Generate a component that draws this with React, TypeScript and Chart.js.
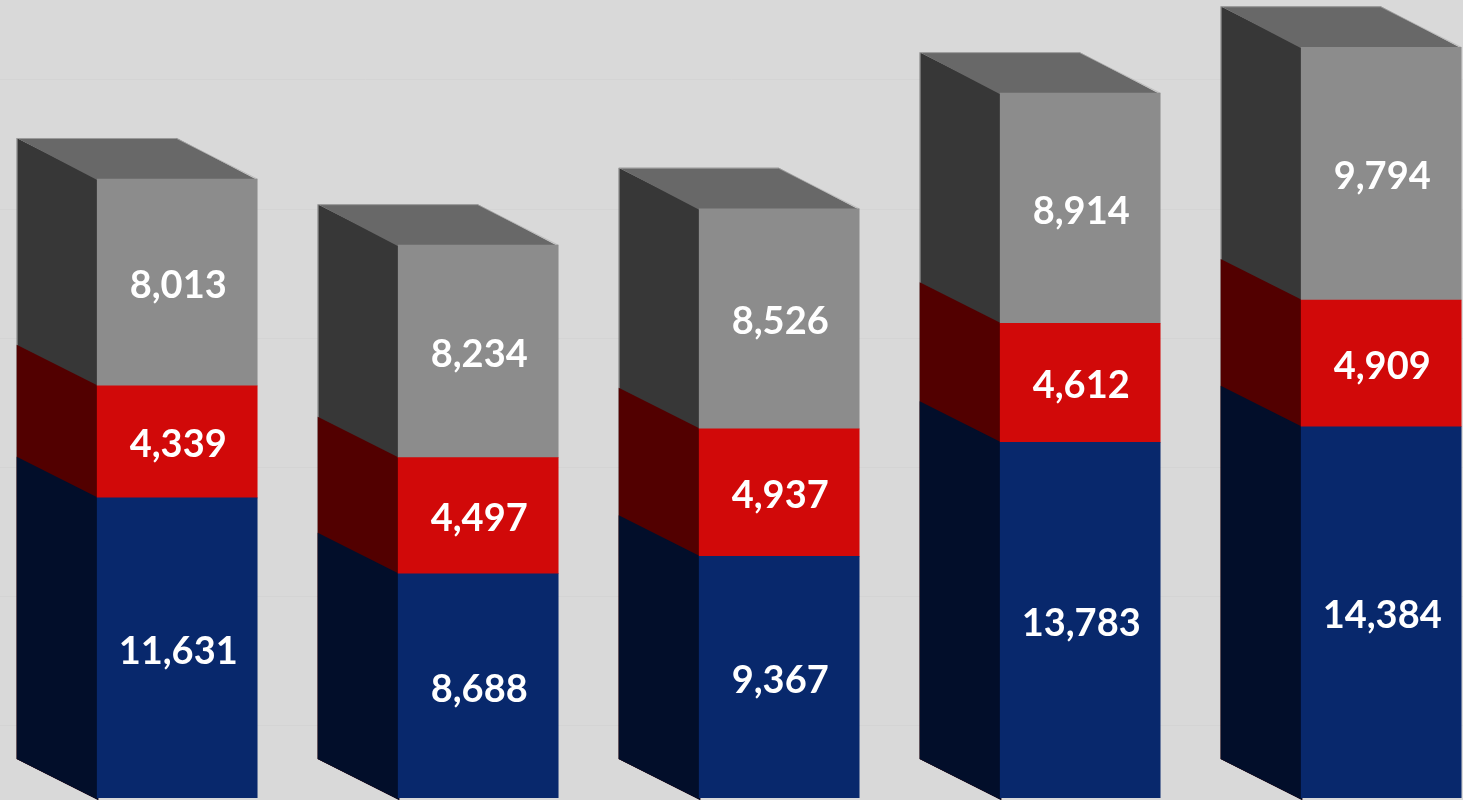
import React, { useEffect, useRef } from "react";
import { Chart, registerables } from "chart.js";

Chart.register(...registerables);

const categories = ["1", "2", "3", "4", "5"];
const seriesBottom = [11631, 8688, 9367, 13783, 14384];
const seriesMiddle = [4339, 4497, 4937, 4612, 4909];
const seriesTop = [8013, 8234, 8526, 8914, 9794];
const gridValues = [5000, 10000, 15000, 20000, 25000, 30000];

const frontColors = ["#08286c", "#d10909", "#8c8c8c"];
const sideColors = ["#020e2a", "#520000", "#373737"];
const topColor = "#686868";
const DX = 80.5;
const DY = 41;
const FONT_SIZE = 38;

const threeD = {
  id: "threeD",
  beforeDatasetsDraw(chart: any) {
    const ctx = chart.ctx;
    const n = chart.data.datasets.length;
    ctx.save();
    const count = chart.data.datasets[0].data.length;
    for (let i = 0; i < count; i++) {
      for (let di = n - 1; di >= 0; di--) {
        const meta = chart.getDatasetMeta(di);
        const bar = meta.data[i];
        if (!bar) continue;
        const { x, y, width } = bar.getProps(["x", "y", "width"], true);
        const ground = chart.getDatasetMeta(0).data[i].getProps(["base"], true).base;
        const xl = x - width / 2;
        const xr = x + width / 2;
        ctx.fillStyle = sideColors[di];
        ctx.beginPath();
        ctx.moveTo(xl + 1, y);
        ctx.lineTo(xl + 1, ground + 2);
        ctx.lineTo(xl - DX, ground + 2 - DY);
        ctx.lineTo(xl - DX, y - DY);
        ctx.closePath();
        ctx.fill();
        if (di === n - 1) {
          ctx.fillStyle = topColor;
          ctx.beginPath();
          ctx.moveTo(xl, y + 1);
          ctx.lineTo(xr, y + 1);
          ctx.lineTo(xr - DX, y - DY);
          ctx.lineTo(xl - DX, y - DY);
          ctx.closePath();
          ctx.fill();
          ctx.strokeStyle = "rgba(175,175,175,0.7)";
          ctx.lineWidth = 1;
          ctx.beginPath();
          ctx.moveTo(xl - DX + 0.5, ground - DY);
          ctx.lineTo(xl - DX + 0.5, y - DY + 0.5);
          ctx.lineTo(xr - DX, y - DY + 0.5);
          ctx.lineTo(xr, y);
          ctx.stroke();
        }
      }
    }
    ctx.restore();
  },
  afterDatasetsDraw(chart: any) {
    const ctx = chart.ctx;
    ctx.save();
    ctx.font = `bold ${FONT_SIZE}px Lato`;
    ctx.fillStyle = "#ffffff";
    ctx.textAlign = "center";
    ctx.textBaseline = "alphabetic";
    chart.data.datasets.forEach((ds: any, di: number) => {
      const meta = chart.getDatasetMeta(di);
      meta.data.forEach((bar: any, i: number) => {
        const { x, y, base } = bar.getProps(["x", "y", "base"], true);
        const v = ds.data[i].y as number;
        const cy = (y + base) / 2;
        ctx.fillText(v.toLocaleString("en-US"), x + 1, cy + FONT_SIZE * 0.36 + 2);
      });
    });
    ctx.restore();
  },
};

export default function App() {
  const canvasRef = useRef<HTMLCanvasElement | null>(null);

  useEffect(() => {
    document.body.style.margin = "0";
    const canvas = canvasRef.current;
    if (!canvas) return;
    const toPoints = (arr: number[]) => arr.map((v, i) => ({ x: i, y: v }));
    const chart = new Chart(canvas, {
      type: "bar",
      data: {
        labels: categories,
        datasets: [
          { label: "Series 1", data: toPoints(seriesBottom), backgroundColor: frontColors[0] },
          { label: "Series 2", data: toPoints(seriesMiddle), backgroundColor: frontColors[1] },
          { label: "Series 3", data: toPoints(seriesTop), backgroundColor: frontColors[2] },
        ] as any,
      },
      options: {
        animation: false,
        responsive: true,
        maintainAspectRatio: false,
        layout: { padding: { left: 0, right: 0, top: 0, bottom: 2 } },
        datasets: { bar: { barThickness: 160, borderWidth: 0 } } as any,
        plugins: {
          legend: { display: false },
          tooltip: { enabled: false },
        },
        scales: {
          x: {
            type: "linear",
            display: false,
            stacked: true,
            min: -0.5887,
            max: 4.2718,
            offset: false,
          },
          y: {
            type: "linear",
            display: false,
            stacked: true,
            min: 0,
            max: 30918,
          },
          y2: {
            type: "linear",
            position: "right",
            display: true,
            min: 2181,
            max: 33099,
            afterBuildTicks: (scale: any) => {
              scale.ticks = gridValues.map((v) => ({ value: v }));
            },
            ticks: { display: false },
            grid: { color: "#d4d4d4", drawTicks: false, lineWidth: 1 },
            border: { display: false },
          },
        } as any,
      },
      plugins: [threeD],
    });
    return () => chart.destroy();
  }, []);

  return (
    <div
      style={{
        position: "fixed",
        left: 0,
        top: 0,
        width: "1463px",
        height: "800px",
        background: "#d9d9d9",
      }}
    >
      <canvas ref={canvasRef} />
    </div>
  );
}
